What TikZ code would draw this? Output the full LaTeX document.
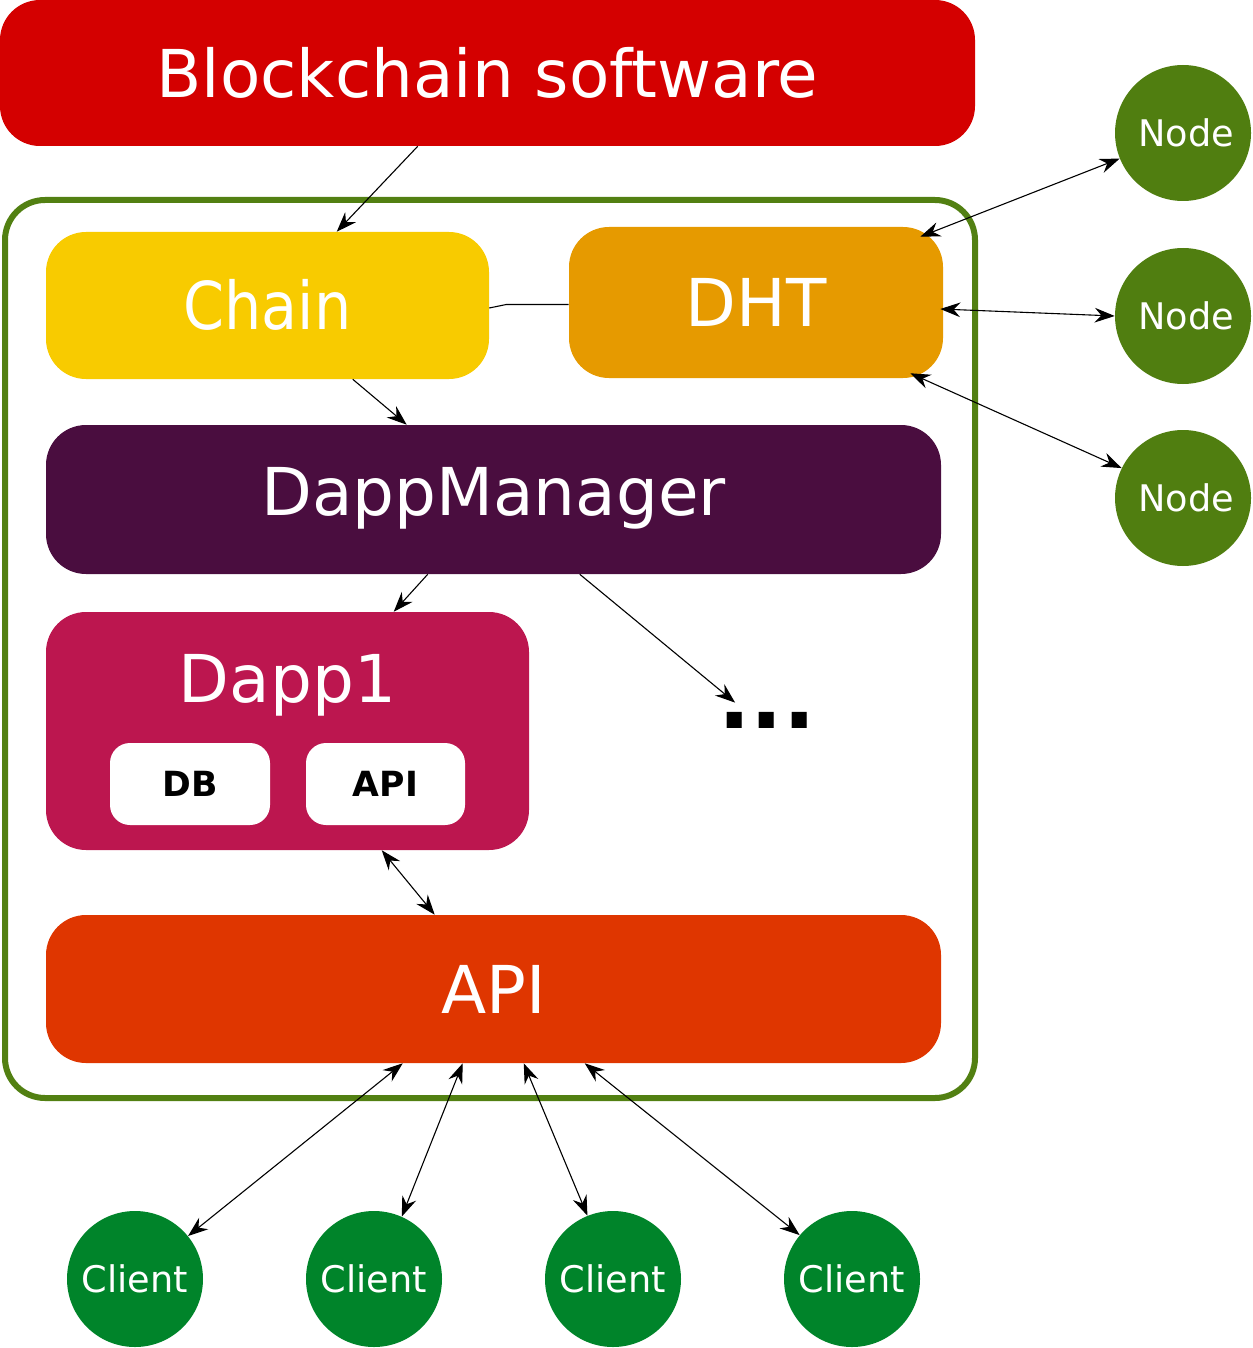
\documentclass[tikz,border=0pt]{standalone}
\usepackage{fontspec}
\setmainfont{DejaVu Sans}
\usetikzlibrary{arrows.meta,calc}
\newdimen\upx
\upx=0.75pt
\definecolor{bcred}{HTML}{D40000}
\definecolor{framegreen}{HTML}{528012}
\definecolor{chainyel}{HTML}{F8CB00}
\definecolor{dhtorange}{HTML}{E69A00}
\definecolor{dmpurple}{HTML}{4A0D3F}
\definecolor{dappred}{HTML}{BC164F}
\definecolor{apiorange}{HTML}{DF3600}
\definecolor{nodegreen}{HTML}{507E10}
\definecolor{clientgreen}{HTML}{00842A}
\tikzset{
  box/.style={rectangle, rounded corners=40\upx, inner sep=0pt, text=white,
    font=\fontsize{49.5}{60}\selectfont, text height=36.1pt, text depth=0pt},
  smallbox/.style={rectangle, rounded corners=20\upx, inner sep=0pt, fill=white,
    text=black, font=\bfseries\fontsize{26}{30}\selectfont, text height=19pt, text depth=0pt,
    minimum width=160\upx, minimum height=82\upx},
  peer/.style={circle, inner sep=0pt, minimum size=136\upx, text=white,
    font=\fontsize{27.5}{32}\selectfont, text height=20pt, text depth=0pt},
  conn/.style={line width=1.1\upx, draw=black},
  tip/.style={-{Stealth[length=15pt,width=11pt,inset=5pt]}},
  bitip/.style={{Stealth[length=15pt,width=11pt,inset=5pt]}-{Stealth[length=15pt,width=11pt,inset=5pt]}}
}
\begin{document}
\begin{tikzpicture}[x=0.75pt,y=-0.75pt]
\useasboundingbox (0,0) rectangle (1252,1348);
% container
\node[rectangle, rounded corners=40\upx, draw=framegreen, line width=6\upx,
  minimum width=970\upx, minimum height=898\upx, inner sep=0pt] (frame) at (490,649) {};
% top software box
\node[box, fill=bcred, minimum width=975\upx, minimum height=146\upx] (bc) at (487.5,73) {Blockchain software};
\node[box, fill=chainyel, minimum width=443\upx, minimum height=147\upx] (chain) at (267.5,305.5) {\scalebox{0.89}[1]{Chain}};
\node[box, fill=dhtorange, minimum width=374\upx, minimum height=151\upx] (dht) at (756,302.5) {DHT};
\node[box, fill=dmpurple, minimum width=895\upx, minimum height=149\upx, text depth=11.7pt] (dm) at (493.5,499.5) {DappManager};
\node[box, fill=dappred, minimum width=483\upx, minimum height=238\upx] (dapp) at (287.5,731) {};
\node[anchor=base, inner sep=0pt, text=white, font=\fontsize{49.5}{60}\selectfont] (dapplabel) at (287.5,702) {Dapp1};
\node[smallbox] (db) at (190,784) {DB};
\node[smallbox, minimum width=159\upx] (dapi) at (385.5,784) {API};
\node[anchor=base, inner sep=0pt, font=\bfseries\fontsize{64}{70}\selectfont] (dots) at (767,728) {...};
\node[box, fill=apiorange, minimum width=895\upx, minimum height=148\upx] (api) at (493.5,989) {API};
% peers
\node[peer, fill=nodegreen] (n1) at (1183,133) {\hspace*{4.5pt}Node};
\node[peer, fill=nodegreen] (n2) at (1183,316) {\hspace*{4.5pt}Node};
\node[peer, fill=nodegreen] (n3) at (1183,498) {\hspace*{4.5pt}Node};
\node[peer, fill=clientgreen] (c1) at (135,1279) {Client};
\node[peer, fill=clientgreen] (c2) at (374,1279) {Client};
\node[peer, fill=clientgreen] (c3) at (613,1279) {Client};
\node[peer, fill=clientgreen] (c4) at (852,1279) {Client};
% connectors
\draw[conn, tip] ($(bc.south west)+(418,0)$) -- ($(chain.north west)+(291,0)$);
\draw[conn, tip] ($(chain.south west)+(307,0)$) -- ($(dm.north west)+(361,0)$);
\draw[conn] ($(chain.east)+(0,2.5)$) -- ($(chain.east)+(17,-1)$) -- ($(dht.west)+(0,2)$);
\draw[conn, bitip] ($(dht.north east)+(-23,10)$) -- (n1.202);
\draw[conn, bitip] ($(dht.east)+(-3,6.5)$) -- (n2.180);
\draw[conn, bitip] ($(dht.south east)+(-33,-5)$) -- (n3.154.6);
\draw[conn, tip] ($(dm.south west)+(382,0)$) -- ($(dapp.north west)+(348,0)$);
\draw[conn, tip] ($(dm.south west)+(534,0)$) -- ($(dots.north west)+(17,-9)$);
\draw[conn, bitip] ($(dapp.south west)+(336,0)$) -- ($(api.north west)+(389,0)$);
\draw[conn, bitip] ($(api.south west)+(357,0)$) -- (c1.39);
\draw[conn, bitip] ($(api.south west)+(417,0)$) -- (c2.66);
\draw[conn, bitip] ($(api.south west)+(478,0)$) -- (c3.112.4);
\draw[conn, bitip] ($(api.south west)+(539,0)$) -- (c4.140.4);
\end{tikzpicture}
\end{document}
